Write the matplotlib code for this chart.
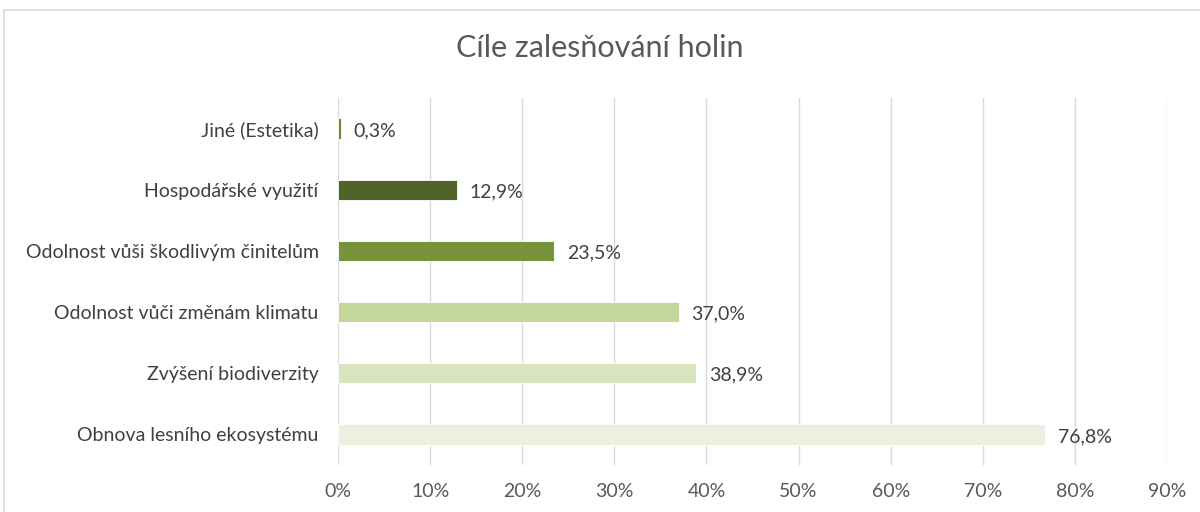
import matplotlib
matplotlib.use("Agg")
import matplotlib.pyplot as plt
from matplotlib.lines import Line2D
from matplotlib.ticker import FuncFormatter, MultipleLocator

categories = ["Obnova lesního ekosystému", "Zvýšení biodiverzity", "Odolnost vůči změnám klimatu",
              "Odolnost vůši škodlivým činitelům", "Hospodářské využití", "Jiné (Estetika)"]
values = [76.8, 38.9, 37.0, 23.5, 12.9, 0.3]
colors = ["#ebf1de", "#d7e4bd", "#c3d69b", "#77933c", "#4f6228", "#6b8a3a"]
title = "Cíle zalesňování holin"

plt.rcParams['font.family'] = ['Lato', 'DejaVu Sans']

fig = plt.figure(figsize=(12, 5.12), dpi=100)
ax = fig.add_axes([338/1200, 1-465/512, (1167-338)/1200, (465-98)/512])

y = list(range(len(categories)))
ax.barh(y, values, height=0.33, color=colors, edgecolor="white", linewidth=0.6, zorder=3)
for yi, v in zip(y, values):
    ax.annotate(f"{v:.1f}%".replace(".", ","), (v, yi), xytext=(9, -1.5), textcoords="offset points",
                va="center", ha="left", fontsize=14, color="#404040")

ax.set_xlim(0, 90)
ax.set_ylim(-0.5, len(categories) - 0.5)
ax.xaxis.set_major_locator(MultipleLocator(10))
ax.xaxis.set_major_formatter(FuncFormatter(lambda x, p: f"{x:.0f}%"))
ax.set_yticks(y)
ax.set_yticklabels(categories)
ax.grid(axis="x", color="#d9d9d9", linewidth=1, zorder=0)
for s in ax.spines.values():
    s.set_visible(False)
ax.tick_params(axis="both", length=0, labelsize=14, labelcolor="#595959")
ax.tick_params(axis="x", pad=13)
ax.tick_params(axis="y", pad=14)
for lab in ax.get_yticklabels():
    lab.set_color("#404040")

fig.text(0.5, 1 - 48/512, title, ha="center", va="center", fontsize=22, color="#595959")

fig.add_artist(Line2D([4/1200, 1], [1-10/512, 1-10/512], transform=fig.transFigure, color="#d9d9d9", lw=1.2))
fig.add_artist(Line2D([4/1200, 4/1200], [0, 1-10/512], transform=fig.transFigure, color="#d9d9d9", lw=1.2))

fig.savefig("out.png", dpi=100, facecolor="white")
